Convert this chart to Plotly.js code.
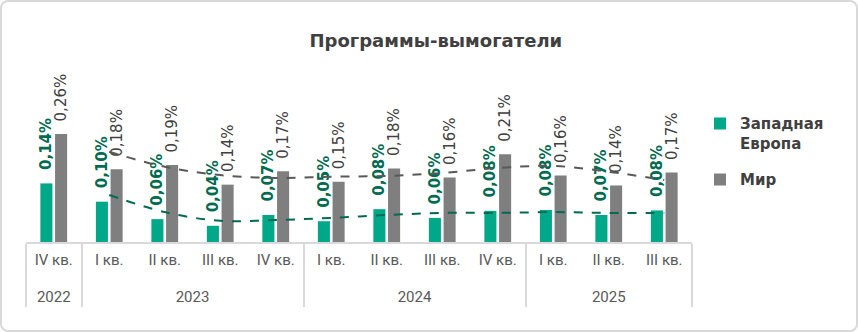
<!DOCTYPE html>
<html>
<head>
<meta charset="utf-8">
<script src="https://cdn.plot.ly/plotly-3.0.1.min.js"></script>
<style>
  html, body { margin: 0; padding: 0; background: #fff; }
  #wrap { position: relative; width: 858px; height: 332px; }
  #chart { width: 858px; height: 332px; }
  #frame { position: absolute; left: 0; top: 0; width: 858px; height: 332px; box-sizing: border-box;
           border: 2px solid #d9d9d9; border-radius: 8px; pointer-events: none; }
</style>
</head>
<body>
<div id="wrap"><div id="chart"></div><div id="frame"></div></div>
<script>
const years    = ['2022','2023','2023','2023','2023','2024','2024','2024','2024','2025','2025','2025'];
const quarters = ['IV кв.','I кв.','II кв.','III кв.','IV кв.','I кв.','II кв.','III кв.','IV кв.','I кв.','II кв.','III кв.'];

const europe      = [0.141, 0.097, 0.055, 0.039, 0.065, 0.050, 0.079, 0.058, 0.075, 0.077, 0.065, 0.076];
const europeText  = ['0,14%','0,10%','0,06%','0,04%','0,07%','0,05%','0,08%','0,06%','0,08%','0,08%','0,07%','0,08%'];
const world       = [0.260, 0.175, 0.185, 0.138, 0.170, 0.145, 0.177, 0.155, 0.211, 0.160, 0.136, 0.167];
const worldText   = ['0,26%','0,18%','0,19%','0,14%','0,17%','0,15%','0,18%','0,16%','0,21%','0,16%','0,14%','0,17%'];

// dashed trend lines, starting at I кв. 2023
const trendEurope = [0.113, 0.072, 0.051, 0.053, 0.058, 0.065, 0.070, 0.070, 0.072, 0.070, 0.070];
const trendWorld  = [0.217, 0.181, 0.161, 0.154, 0.157, 0.159, 0.166, 0.178, 0.183, 0.169, 0.149];

// Plotly orders multicategory sub-labels by first appearance, so the lone 2022 label
// gets an invisible marker; a trailing spacer line widens the gap to the year row.
const qLabels = quarters.map((q, i) => (years[i] === years[0] ? q + '\u200B' : q) + '<br>\u00A0');
const x  = [years, qLabels];
const xt = [years.slice(1), qLabels.slice(1)];
const pad = s => '\u00A0\u00A0' + s;

const FONT = 'DejaVu Sans, sans-serif';

const traces = [
  {
    type: 'bar', name: 'Западная<br>Европа', x: x, y: europe,
    marker: {color: '#00A88A'},
    text: europeText.map(pad), textposition: 'outside', textangle: -90,
    constraintext: 'none', cliponaxis: false,
    textfont: {family: FONT, size: 15, color: '#006B50', weight: 'bold'},
    hoverinfo: 'skip', legendgroup: 'a'
  },
  {
    type: 'bar', name: 'Мир', x: x, y: world,
    marker: {color: '#7F7F7F'},
    text: worldText.map(pad), textposition: 'outside', textangle: -90,
    constraintext: 'none', cliponaxis: false,
    textfont: {family: FONT, size: 15, color: '#404040'},
    hoverinfo: 'skip', legendgroup: 'b'
  },
  {
    type: 'scatter', mode: 'lines', x: xt, y: trendEurope, showlegend: false,
    line: {color: '#006B50', width: 2, dash: 'dash', shape: 'spline'}, hoverinfo: 'skip'
  },
  {
    type: 'scatter', mode: 'lines', x: xt, y: trendWorld, showlegend: false,
    line: {color: '#595959', width: 2, dash: 'dash', shape: 'spline'}, hoverinfo: 'skip'
  }
];

const layout = {
  width: 858, height: 332,
  margin: {l: 26, r: 166, t: 55, b: 90},
  paper_bgcolor: '#fff', plot_bgcolor: '#fff',
  title: {text: '<b>Программы-вымогатели</b>', x: 0.508, xanchor: 'center', y: 0.878, yanchor: 'middle',
          font: {family: FONT, size: 18, color: '#404040'}},
  barmode: 'group', bargap: 0.47, bargroupgap: 0.18,
  xaxis: {
    type: 'multicategory', showline: true, linecolor: '#d9d9d9', linewidth: 2,
    showdividers: true, dividercolor: '#d9d9d9', dividerwidth: 2,
    tickfont: {family: 'Roboto, sans-serif', size: 15, color: '#595959'},
    ticklabelstandoff: 3,
    showgrid: false, zeroline: false, ticks: ''
  },
  yaxis: {range: [0, 0.45], visible: false, showgrid: false, zeroline: false},
  legend: {
    x: 1.012, xanchor: 'left', y: 0.72, yanchor: 'top', valign: 'top',
    traceorder: 'grouped', tracegroupgap: 14,
    font: {family: FONT, size: 15, color: '#404040', weight: 'bold'}
  },
  showlegend: true
};

Plotly.newPlot('chart', traces, layout, {displayModeBar: false, staticPlot: true});
</script>
</body>
</html>
